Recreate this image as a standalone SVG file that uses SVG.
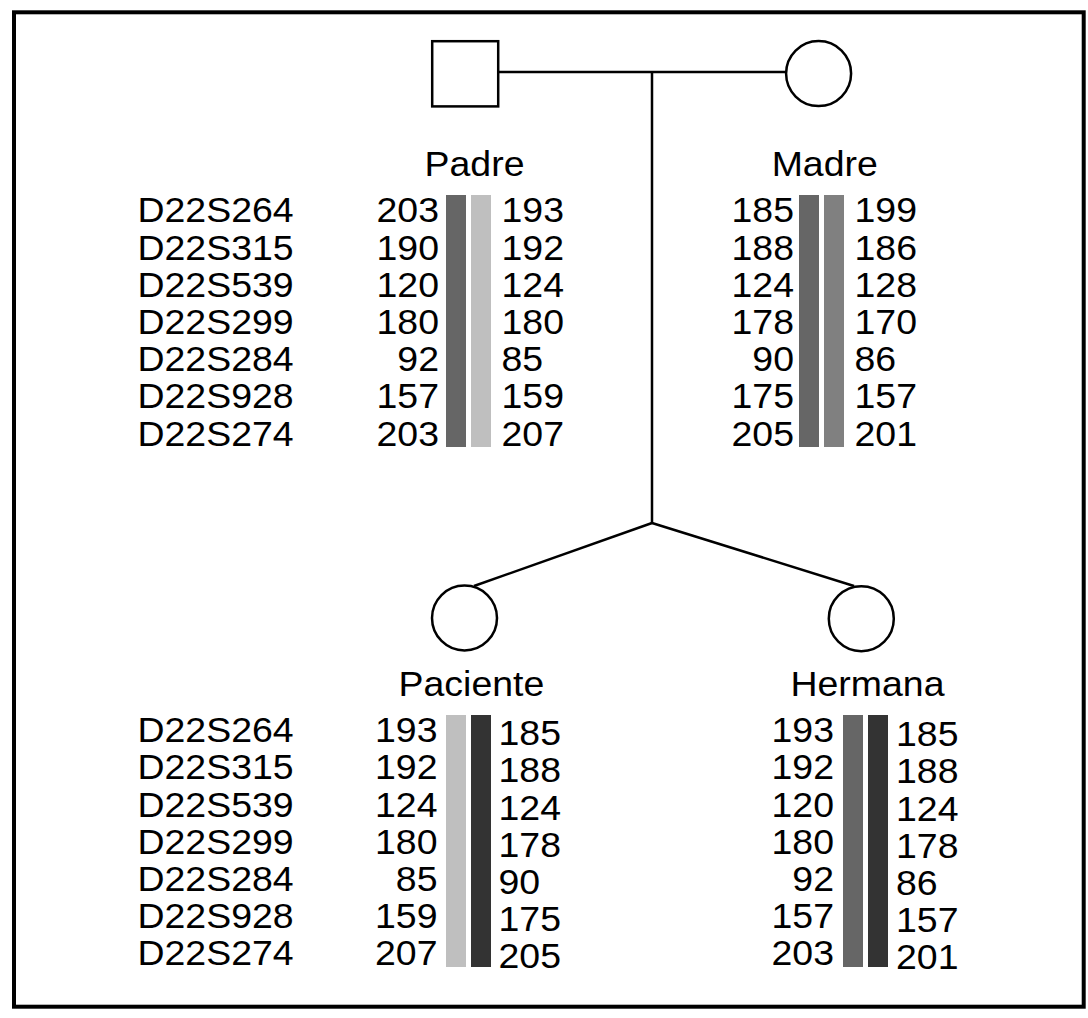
<svg xmlns="http://www.w3.org/2000/svg" width="1088" height="1018" viewBox="0 0 1088 1018">
<style>
  .ln{stroke:#000;stroke-width:2.5;fill:none}
  .sym{stroke:#000;stroke-width:2.5;fill:#fff}
  text{font-family:"Liberation Sans",Arial,Helvetica,sans-serif;font-size:35px;fill:#000}
  .e{text-anchor:end}
  .m{text-anchor:middle}
  .c1{fill:#666}
  .c2{fill:#bfbfbf}
  .c3{fill:#808080}
  .c4{fill:#333}
</style>
<rect x="0" y="0" width="1088" height="1018" fill="#fff"/>
<rect x="14" y="12.3" width="1069.7" height="994.4" fill="none" stroke="#000" stroke-width="4"/>

<g id="connectors">
  <line class="ln" x1="498" y1="72" x2="786" y2="72"/>
  <line class="ln" x1="652" y1="72" x2="652" y2="523"/>
  <line class="ln" x1="652" y1="523" x2="474" y2="586"/>
  <line class="ln" x1="652" y1="523" x2="854" y2="586"/>
</g>

<g id="loci-top">
  <text transform="translate(137.5,222.3) scale(1.07,1)">D22S264</text>
  <text transform="translate(137.5,259.5) scale(1.07,1)">D22S315</text>
  <text transform="translate(137.5,296.7) scale(1.07,1)">D22S539</text>
  <text transform="translate(137.5,333.9) scale(1.07,1)">D22S299</text>
  <text transform="translate(137.5,371.1) scale(1.07,1)">D22S284</text>
  <text transform="translate(137.5,408.3) scale(1.07,1)">D22S928</text>
  <text transform="translate(137.5,445.5) scale(1.07,1)">D22S274</text>
</g>

<g id="loci-bottom">
  <text transform="translate(137.5,742.3) scale(1.07,1)">D22S264</text>
  <text transform="translate(137.5,779.4) scale(1.07,1)">D22S315</text>
  <text transform="translate(137.5,816.5) scale(1.07,1)">D22S539</text>
  <text transform="translate(137.5,853.6) scale(1.07,1)">D22S299</text>
  <text transform="translate(137.5,890.7) scale(1.07,1)">D22S284</text>
  <text transform="translate(137.5,927.8) scale(1.07,1)">D22S928</text>
  <text transform="translate(137.5,964.9) scale(1.07,1)">D22S274</text>
</g>

<g id="padre">
  <rect class="sym" x="432.2" y="41.2" width="66" height="65.2"/>
  <text class="m" transform="translate(474.5,175.5) scale(1.07,1)">Padre</text>
  <rect class="c1" x="446" y="195" width="20" height="252"/>
  <rect class="c2" x="471" y="195" width="20" height="252"/>
  <text class="e" transform="translate(439,222.3) scale(1.07,1)">203</text>
  <text class="e" transform="translate(439,259.5) scale(1.07,1)">190</text>
  <text class="e" transform="translate(439,296.7) scale(1.07,1)">120</text>
  <text class="e" transform="translate(439,333.9) scale(1.07,1)">180</text>
  <text class="e" transform="translate(439,371.1) scale(1.07,1)">92</text>
  <text class="e" transform="translate(439,408.3) scale(1.07,1)">157</text>
  <text class="e" transform="translate(439,445.5) scale(1.07,1)">203</text>
  <text transform="translate(501.5,222.3) scale(1.07,1)">193</text>
  <text transform="translate(501.5,259.5) scale(1.07,1)">192</text>
  <text transform="translate(501.5,296.7) scale(1.07,1)">124</text>
  <text transform="translate(501.5,333.9) scale(1.07,1)">180</text>
  <text transform="translate(501.5,371.1) scale(1.07,1)">85</text>
  <text transform="translate(501.5,408.3) scale(1.07,1)">159</text>
  <text transform="translate(501.5,445.5) scale(1.07,1)">207</text>
</g>

<g id="madre">
  <circle class="sym" cx="818.6" cy="73.6" r="32.5"/>
  <text class="m" transform="translate(824.7,176) scale(1.07,1)">Madre</text>
  <rect class="c1" x="799" y="195" width="20" height="252"/>
  <rect class="c3" x="824" y="195" width="20" height="252"/>
  <text class="e" transform="translate(794,222.3) scale(1.07,1)">185</text>
  <text class="e" transform="translate(794,259.5) scale(1.07,1)">188</text>
  <text class="e" transform="translate(794,296.7) scale(1.07,1)">124</text>
  <text class="e" transform="translate(794,333.9) scale(1.07,1)">178</text>
  <text class="e" transform="translate(794,371.1) scale(1.07,1)">90</text>
  <text class="e" transform="translate(794,408.3) scale(1.07,1)">175</text>
  <text class="e" transform="translate(794,445.5) scale(1.07,1)">205</text>
  <text transform="translate(854.5,222.3) scale(1.07,1)">199</text>
  <text transform="translate(854.5,259.5) scale(1.07,1)">186</text>
  <text transform="translate(854.5,296.7) scale(1.07,1)">128</text>
  <text transform="translate(854.5,333.9) scale(1.07,1)">170</text>
  <text transform="translate(854.5,371.1) scale(1.07,1)">86</text>
  <text transform="translate(854.5,408.3) scale(1.07,1)">157</text>
  <text transform="translate(854.5,445.5) scale(1.07,1)">201</text>
</g>

<g id="paciente">
  <circle class="sym" cx="464.5" cy="618" r="32.5"/>
  <text class="m" transform="translate(471.4,696) scale(1.07,1)">Paciente</text>
  <rect class="c2" x="446" y="715" width="20" height="252"/>
  <rect class="c4" x="471" y="715" width="20" height="252"/>
  <text class="e" transform="translate(437.5,742.3) scale(1.07,1)">193</text>
  <text class="e" transform="translate(437.5,779.4) scale(1.07,1)">192</text>
  <text class="e" transform="translate(437.5,816.5) scale(1.07,1)">124</text>
  <text class="e" transform="translate(437.5,853.6) scale(1.07,1)">180</text>
  <text class="e" transform="translate(437.5,890.7) scale(1.07,1)">85</text>
  <text class="e" transform="translate(437.5,927.8) scale(1.07,1)">159</text>
  <text class="e" transform="translate(437.5,964.9) scale(1.07,1)">207</text>
  <text transform="translate(498.5,745.3) scale(1.07,1)">185</text>
  <text transform="translate(498.5,782.4) scale(1.07,1)">188</text>
  <text transform="translate(498.5,819.5) scale(1.07,1)">124</text>
  <text transform="translate(498.5,856.6) scale(1.07,1)">178</text>
  <text transform="translate(498.5,893.7) scale(1.07,1)">90</text>
  <text transform="translate(498.5,930.8) scale(1.07,1)">175</text>
  <text transform="translate(498.5,967.9) scale(1.07,1)">205</text>
</g>

<g id="hermana">
  <circle class="sym" cx="861.3" cy="618.7" r="32.5"/>
  <text class="m" transform="translate(867.5,696) scale(1.07,1)">Hermana</text>
  <rect class="c1" x="843" y="715" width="20" height="252"/>
  <rect class="c4" x="868" y="715" width="20" height="252"/>
  <text class="e" transform="translate(834,742.3) scale(1.07,1)">193</text>
  <text class="e" transform="translate(834,779.4) scale(1.07,1)">192</text>
  <text class="e" transform="translate(834,816.5) scale(1.07,1)">120</text>
  <text class="e" transform="translate(834,853.6) scale(1.07,1)">180</text>
  <text class="e" transform="translate(834,890.7) scale(1.07,1)">92</text>
  <text class="e" transform="translate(834,927.8) scale(1.07,1)">157</text>
  <text class="e" transform="translate(834,964.9) scale(1.07,1)">203</text>
  <text transform="translate(896,746.3) scale(1.07,1)">185</text>
  <text transform="translate(896,783.4) scale(1.07,1)">188</text>
  <text transform="translate(896,820.5) scale(1.07,1)">124</text>
  <text transform="translate(896,857.6) scale(1.07,1)">178</text>
  <text transform="translate(896,894.7) scale(1.07,1)">86</text>
  <text transform="translate(896,931.8) scale(1.07,1)">157</text>
  <text transform="translate(896,968.9) scale(1.07,1)">201</text>
</g>
</svg>
